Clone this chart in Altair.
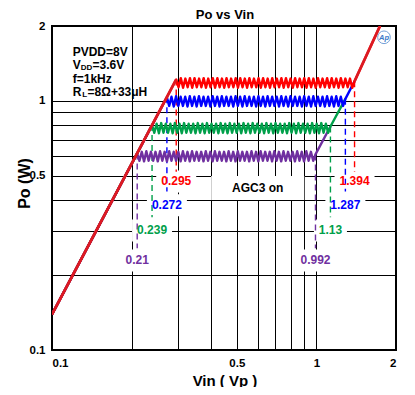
import altair as alt
import numpy as np
import pandas as pd

FONT = "Liberation Sans"

# ---------------- data ----------------
series_names = ["red", "blue", "green", "purple"]
colors = ["#ff0000", "#0000ff", "#00a04a", "#7030a0"]
diag_color = "#dc1a22"

vin_start = [0.295, 0.272, 0.239, 0.21]     # AGC plateau start (Vp)
vin_end = [1.394, 1.287, 1.13, 0.992]       # AGC plateau end (Vp)
po_start = [1.22, 1.035, 0.80, 0.615]       # Po at plateau start (W)
po_end = [1.20, 1.02, 0.79, 0.61]           # Po at plateau end (W)

low_vin, low_po = 0.1, 0.139                # left end of rising line
top_vin, top_po = 1.74, 2.0                 # where the red line leaves the plot

red_peaks = [1.235, 1.23, 1.235, 1.235, 1.23, 1.235, 1.23, 1.235, 1.235, 1.23,
             1.235, 1.23, 1.235, 1.235, 1.23, 1.235, 1.23, 1.235, 1.235, 1.23,
             1.235, 1.23, 1.235, 1.235, 1.23, 1.235, 1.23, 1.235, 1.235, 1.23,
             1.235, 1.23, 1.235, 1.235, 1.23, 1.235, 1.23, 1.23]
red_troughs = [1.135, 1.13, 1.135, 1.13, 1.135, 1.135, 1.13, 1.135, 1.13, 1.135,
               1.13, 1.135, 1.135, 1.13, 1.135, 1.13, 1.135, 1.135, 1.13, 1.135,
               1.13, 1.135, 1.135, 1.13, 1.135, 1.13, 1.135, 1.135, 1.13, 1.135,
               1.13, 1.135, 1.135, 1.13, 1.135, 1.13, 1.135, 1.135, 1.13]
blue_peaks = [1.04, 1.045, 1.04, 1.04, 1.045, 1.04, 1.045, 1.04, 1.04, 1.045,
              1.04, 1.045, 1.04, 1.04, 1.045, 1.04, 1.045, 1.04, 1.04, 1.045,
              1.04, 1.045, 1.04, 1.04, 1.045, 1.04, 1.045, 1.04, 1.04, 1.045,
              1.04, 1.045, 1.04, 1.04, 1.045, 1.04, 1.045, 1.04]
blue_troughs = [0.955, 0.95, 0.955, 0.955, 0.95, 0.955, 0.95, 0.955, 0.955, 0.95,
                0.955, 0.95, 0.955, 0.955, 0.95, 0.955, 0.95, 0.955, 0.955, 0.95,
                0.955, 0.95, 0.955, 0.955, 0.95, 0.955, 0.95, 0.955, 0.955, 0.95,
                0.955, 0.95, 0.955, 0.955, 0.95, 0.955, 0.95, 0.955, 0.955]
green_peaks = [0.81, 0.815, 0.81, 0.81, 0.815, 0.81, 0.815, 0.81, 0.81, 0.815,
               0.81, 0.815, 0.81, 0.81, 0.815, 0.81, 0.815, 0.81, 0.81, 0.815,
               0.81, 0.815, 0.81, 0.81, 0.815, 0.81, 0.815, 0.81, 0.81, 0.815,
               0.81, 0.815, 0.81, 0.81, 0.815, 0.81, 0.815, 0.81]
green_troughs = [0.745, 0.742, 0.745, 0.745, 0.742, 0.745, 0.742, 0.745, 0.745, 0.742,
                 0.745, 0.742, 0.745, 0.745, 0.742, 0.745, 0.742, 0.745, 0.745, 0.742,
                 0.745, 0.742, 0.745, 0.745, 0.742, 0.745, 0.742, 0.745, 0.745, 0.742,
                 0.745, 0.742, 0.745, 0.745, 0.742, 0.745, 0.742, 0.745, 0.745]
purple_peaks = [0.625, 0.628, 0.625, 0.625, 0.628, 0.625, 0.628, 0.625, 0.625, 0.628,
                0.625, 0.628, 0.625, 0.625, 0.628, 0.625, 0.628, 0.625, 0.625, 0.628,
                0.625, 0.628, 0.625, 0.625, 0.628, 0.625, 0.628, 0.625, 0.625, 0.628,
                0.625, 0.628, 0.625, 0.625, 0.628, 0.625, 0.628, 0.625]
purple_troughs = [0.575, 0.572, 0.575, 0.575, 0.572, 0.575, 0.572, 0.575, 0.575, 0.572,
                  0.575, 0.572, 0.575, 0.575, 0.572, 0.575, 0.572, 0.575, 0.575, 0.572,
                  0.575, 0.572, 0.575, 0.575, 0.572, 0.575, 0.572, 0.575, 0.575, 0.572,
                  0.575, 0.572, 0.575, 0.575, 0.572, 0.575, 0.572, 0.575, 0.575]

ripples = [(red_peaks, red_troughs), (blue_peaks, blue_troughs),
           (green_peaks, green_troughs), (purple_peaks, purple_troughs)]

# dashed marker lines: lower end (W)
rule_bottom = [0.52, 0.433, 0.341, 0.256]

# value labels
labels_left = ["0.295", "0.272", "0.239", "0.21"]
labels_right = ["1.394", "1.287", "1.13", "0.992"]

grid_values = [0.2, 0.3, 0.4, 0.5, 0.6, 0.7, 0.8, 0.9, 1.0]
tick_labels = [0.1, 0.5, 1, 2]

# ---------------- layout (pixels / label rows) ----------------
label_rows = [0.475, 0.381, 0.302, 0.229]
dx_left = [11.8, 10.6, 9.6, -2.2]
dx_right = [14.9, 10.6, 7.6, 3.0]

W, H = 344, 324

# ---------------- build tables ----------------
xs = alt.Scale(type="log", domain=[0.1, 2], nice=False)
ys = alt.Scale(type="log", domain=[0.1, 2], nice=False)

axis_vals = [0.1] + grid_values + [2]
label_expr = "indexof([0.1, 0.5, 1, 2], datum.value) >= 0 ? datum.label : ''"

x_enc = alt.X("vin:Q", scale=xs, axis=alt.Axis(
    values=axis_vals, labelExpr=label_expr, format="~g", title="Vin ( Vp )",
    titleX=172.5, titleY=30, titleBaseline="middle", titleAlign="center",
    titleFontSize=15, titleFontWeight="bold", titleFont=FONT,
    labelFont=FONT, labelFontSize=11.5, labelFontWeight="bold", labelPadding=7,
    labelOverlap=False, labelColor="black", titleColor="black"))
y_enc = alt.Y("po:Q", scale=ys, axis=alt.Axis(
    values=axis_vals, labelExpr=label_expr, format="~g", title="Po (W)",
    titleX=-28, titleY=157, titleBaseline="middle", titleAlign="center", titleAngle=-90,
    titleFontSize=16, titleFontWeight="bold", titleFont=FONT,
    labelFont=FONT, labelFontSize=11.5, labelFontWeight="bold", labelPadding=7,
    labelOverlap=False, labelColor="black", titleColor="black"))

layers = []

# label boxes (white, interrupt grid lines)
box_rows = []
for i in range(4):
    for txt, v, dx in ((labels_left[i], vin_start[i], dx_left[i]),
                       (labels_right[i], vin_end[i], dx_right[i])):
        w = 40 if len(txt) == 5 else 33
        h = 22
        path = f"M{-w/44:.3f},{-h/44:.3f}H{w/44:.3f}V{h/44:.3f}H{-w/44:.3f}Z"
        box_rows.append({"vin": v, "po": label_rows[i], "dx": dx, "shape": path,
                         "text": txt, "color": colors[i]})
box_df = pd.DataFrame(box_rows)

boxes = alt.Chart(box_df).mark_point(filled=True, fill="white", stroke=None,
                                     opacity=1, size=44 * 44).encode(
    x=x_enc, y=y_enc,
    xOffset=alt.XOffset("dx:Q", scale=None),
    shape=alt.Shape("shape:N", scale=None))
layers.append(boxes)

agc_df = pd.DataFrame({"vin": [0.4], "vin2": [0.9], "po": [0.4], "po2": [0.5]})
agc_box = alt.Chart(agc_df).mark_rect(fill="white").encode(
    x=x_enc, x2="vin2:Q", y=y_enc, y2="po2:Q")
layers.append(agc_box)

# dashed vertical markers
rule_rows = []
for i in range(4):
    rule_rows.append({"vin": vin_start[i], "po": po_start[i], "po2": rule_bottom[i], "color": colors[i]})
    rule_rows.append({"vin": vin_end[i], "po": po_end[i], "po2": rule_bottom[i], "color": colors[i]})
rules = alt.Chart(pd.DataFrame(rule_rows)).mark_rule(strokeDash=[6, 4], strokeWidth=1.4).encode(
    x=x_enc, y=y_enc, y2="po2:Q", color=alt.Color("color:N", scale=None))
layers.append(rules)

# curves, purple first so red lies on top
for i in reversed(range(4)):
    peaks, troughs = ripples[i]
    n = len(troughs)
    grid = np.geomspace(vin_start[i], vin_end[i], 2 * n + 1)
    po = [po_start[i]]
    for k in range(n):
        po.append(troughs[k])
        po.append(peaks[k] if k < n - 1 else po_end[i])
    vin = [low_vin] + list(grid)
    pov = [low_po] + po
    if i == 0:
        vin.append(top_vin)
        pov.append(top_po)
    else:
        vin.append(vin_end[i - 1])
        pov.append(po_end[i - 1])
    df = pd.DataFrame({"vin": vin, "po": pov, "k": range(len(vin))})
    layers.append(alt.Chart(df).mark_line(color=colors[i], strokeWidth=2.4,
                                          strokeJoin="round", clip=True).encode(
        x=x_enc, y=y_enc, order="k:Q"))

# darker red rising parts
diag_df = pd.DataFrame({"vin": [low_vin, vin_start[0], vin_end[0], top_vin],
                        "po": [low_po, po_start[0], po_end[0], top_po],
                        "seg": ["a", "a", "b", "b"]})
layers.append(alt.Chart(diag_df).mark_line(color=diag_color, strokeWidth=2.8, clip=True).encode(
    x=x_enc, y=y_enc, detail="seg:N"))

# value labels
labels = alt.Chart(box_df).mark_text(font=FONT, fontSize=12, fontWeight="bold",
                                     align="center", baseline="middle").encode(
    x=x_enc, y=y_enc, xOffset=alt.XOffset("dx:Q", scale=None),
    text="text:N", color=alt.Color("color:N", scale=None))
layers.append(labels)

agc_txt = alt.Chart(pd.DataFrame({"vin": [0.6], "po": [0.447], "t": ["AGC3 on"]})).mark_text(
    font=FONT, fontSize=12, fontWeight="bold", color="black", align="center", baseline="middle"
).encode(x=x_enc, y=y_enc, text="t:N")
layers.append(agc_txt)

# ---------------- annotation texts (pixel positions) ----------------
dummy = pd.DataFrame({"a": [0]})


def ptext(txt, px, py, size=12, align="left", color="black", style="normal", weight="bold"):
    return alt.Chart(dummy).mark_text(text=txt, font=FONT, fontSize=size, fontWeight=weight,
                                      fontStyle=style, align=align, baseline="middle",
                                      color=color).encode(x=alt.value(px), y=alt.value(py))


layers += [
    ptext("Po vs Vin", 173, -11, size=13, align="center"),
    ptext("PVDD=8V", 20.7, 25.5),
    ptext("V", 20.7, 39.3),
    ptext("DD", 28.7, 42.0, size=8),
    ptext("=3.6V", 40.5, 39.3),
    ptext("f=1kHz", 20.7, 52.5),
    ptext("R", 20.7, 66.0),
    ptext("L", 30.2, 68.7, size=8),
    ptext("=8\u03a9+33\u03bcH", 35.6, 66.0),
]

logo = alt.Chart(dummy).mark_point(shape="circle", size=160, filled=False,
                                   stroke="#3a78c8", strokeWidth=1).encode(
    x=alt.value(332), y=alt.value(11.3))
layers.append(logo)
layers.append(ptext("Ap", 332, 11.5, size=7.5, align="center", color="#3a78c8", style="italic"))

chart = alt.layer(*layers).properties(
    width=W, height=H,
    autosize=alt.AutoSizeParams(type="none"),
    padding={"left": 44, "top": 18, "right": 11, "bottom": 37},
).configure_view(
    stroke="black", strokeWidth=2
).configure_axis(
    grid=True, gridColor="black", gridWidth=1, gridOpacity=1,
    ticks=False, domain=False
)

chart.save("out.html", embed_options={"renderer": "svg", "actions": False})
